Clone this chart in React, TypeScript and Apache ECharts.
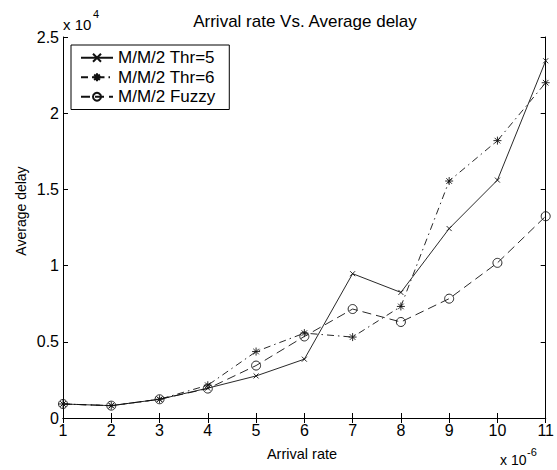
import React, { useEffect, useRef } from 'react';
import * as echarts from 'echarts';

// Arrival rate in units of 10^-6
const arrivalRate = [1, 2, 3, 4, 5, 6, 7, 8, 9, 10, 11];
// Average delay (raw values, axis shown as x 10^4)
const thr5 = [920, 810, 1230, 1960, 2760, 3860, 9470, 8240, 12430, 15610, 23440];
const thr6 = [920, 810, 1230, 2150, 4360, 5570, 5310, 7320, 15550, 18200, 22000];
const fuzzy = [920, 810, 1230, 1930, 3440, 5350, 7150, 6300, 7830, 10180, 13240];
const seriesNames = ['M/M/2 Thr=5', 'M/M/2 Thr=6', 'M/M/2 Fuzzy'];

const FONT = '"Liberation Sans", Arial, Helvetica, sans-serif';
const X_MARK = 'path://M0,0L10,10M10,0L0,10';
const STAR_MARK = 'path://M5,0L5,10M0,5L10,5M1.5,1.5L8.5,8.5M8.5,1.5L1.5,8.5';

export default function App() {
  const ref = useRef<HTMLDivElement>(null);
  useEffect(() => {
    const chart = echarts.init(ref.current!, null, { renderer: 'svg' });
    const pairs = (ys: number[]) => arrivalRate.map((x, i) => [x, ys[i]]);
    const baseAxisLine = { show: true, lineStyle: { color: '#000', width: 1 } };
    const tick = { show: true, inside: true, length: 5, lineStyle: { color: '#000', width: 1 } };
    const mkSeries = (name: string, data: number[], symbol: string, size: number, type: any) => ({
      name,
      type: 'line',
      data: pairs(data),
      symbol,
      symbolSize: size,
      showSymbol: true,
      clip: false,
      color: '#111',
      itemStyle: { color: 'transparent', borderColor: '#111', borderWidth: 0.9 },
      lineStyle: { color: '#111', width: 0.9, type },
      emphasis: { disabled: true },
    });
    const option: any = {
      animation: false,
      backgroundColor: '#fff',
      textStyle: { fontFamily: FONT, color: '#000' },
      grid: { left: 63, right: 10, top: 37, bottom: 52, containLabel: false },
      xAxis: [
        {
          type: 'value', min: 1, max: 11, interval: 1, position: 'bottom',
          axisLine: baseAxisLine, axisTick: tick, splitLine: { show: false },
          axisLabel: { color: '#000', fontSize: 16, fontFamily: FONT, margin: 4 },
        },
        {
          type: 'value', min: 1, max: 11, interval: 1, position: 'top',
          axisLine: baseAxisLine, axisTick: tick, splitLine: { show: false },
          axisLabel: { show: false },
        },
      ],
      yAxis: [
        {
          type: 'value', min: 0, max: 25000, interval: 5000, position: 'left',
          axisLine: baseAxisLine, axisTick: tick, splitLine: { show: false },
          axisLabel: {
            color: '#000', fontSize: 16, fontFamily: FONT, margin: 4,
            formatter: (v: number) => String(v / 10000),
          },
        },
        {
          type: 'value', min: 0, max: 25000, interval: 5000, position: 'right',
          axisLine: baseAxisLine, axisTick: tick, splitLine: { show: false },
          axisLabel: { show: false },
        },
      ],
      legend: {
        orient: 'vertical',
        left: 71,
        top: 45,
        padding: [3, 14, 3, 9],
        itemGap: 0,
        itemWidth: 32,
        itemHeight: 10,
        itemTextGap: 12,
        backgroundColor: '#fff',
        borderColor: '#000',
        borderWidth: 1,
        borderRadius: 0,
        textStyle: { fontSize: 17, fontFamily: FONT, color: '#000', lineHeight: 19.5 },
        data: seriesNames,
      },
      series: [
        mkSeries(seriesNames[0], thr5, X_MARK, 5, 'solid'),
        mkSeries(seriesNames[1], thr6, STAR_MARK, 8, [7, 4, 1.5, 4]),
        mkSeries(seriesNames[2], fuzzy, 'circle', 9, [9, 5]),
      ],
      graphic: [
        {
          type: 'text', x: 305, y: 21,
          style: { text: 'Arrival rate Vs. Average delay', font: `17px ${FONT}`, fill: '#000', textAlign: 'center', textVerticalAlign: 'middle' },
        },
        {
          type: 'text', x: 302, y: 454,
          style: { text: 'Arrival rate', font: `14.5px ${FONT}`, fill: '#000', textAlign: 'center', textVerticalAlign: 'middle' },
        },
        {
          type: 'text', x: 21, y: 211, rotation: Math.PI / 2,
          style: { text: 'Average delay', font: `14px ${FONT}`, fill: '#000', textAlign: 'center', textVerticalAlign: 'middle' },
        },
        {
          type: 'text', x: 63, y: 24,
          style: { text: 'x 10', font: `15px ${FONT}`, fill: '#000', textAlign: 'left', textVerticalAlign: 'middle' },
        },
        {
          type: 'text', x: 93, y: 14,
          style: { text: '4', font: `11px ${FONT}`, fill: '#000', textAlign: 'left', textVerticalAlign: 'middle' },
        },
        {
          type: 'text', x: 500, y: 460,
          style: { text: 'x 10', font: `14px ${FONT}`, fill: '#000', textAlign: 'left', textVerticalAlign: 'middle' },
        },
        {
          type: 'text', x: 527, y: 452,
          style: { text: '-6', font: `11px ${FONT}`, fill: '#000', textAlign: 'left', textVerticalAlign: 'middle' },
        },
      ],
    };
    chart.setOption(option);
    return () => chart.dispose();
  }, []);
  return <div ref={ref} style={{ position: 'fixed', left: 0, top: 0, width: 557, height: 470 }} />;
}
